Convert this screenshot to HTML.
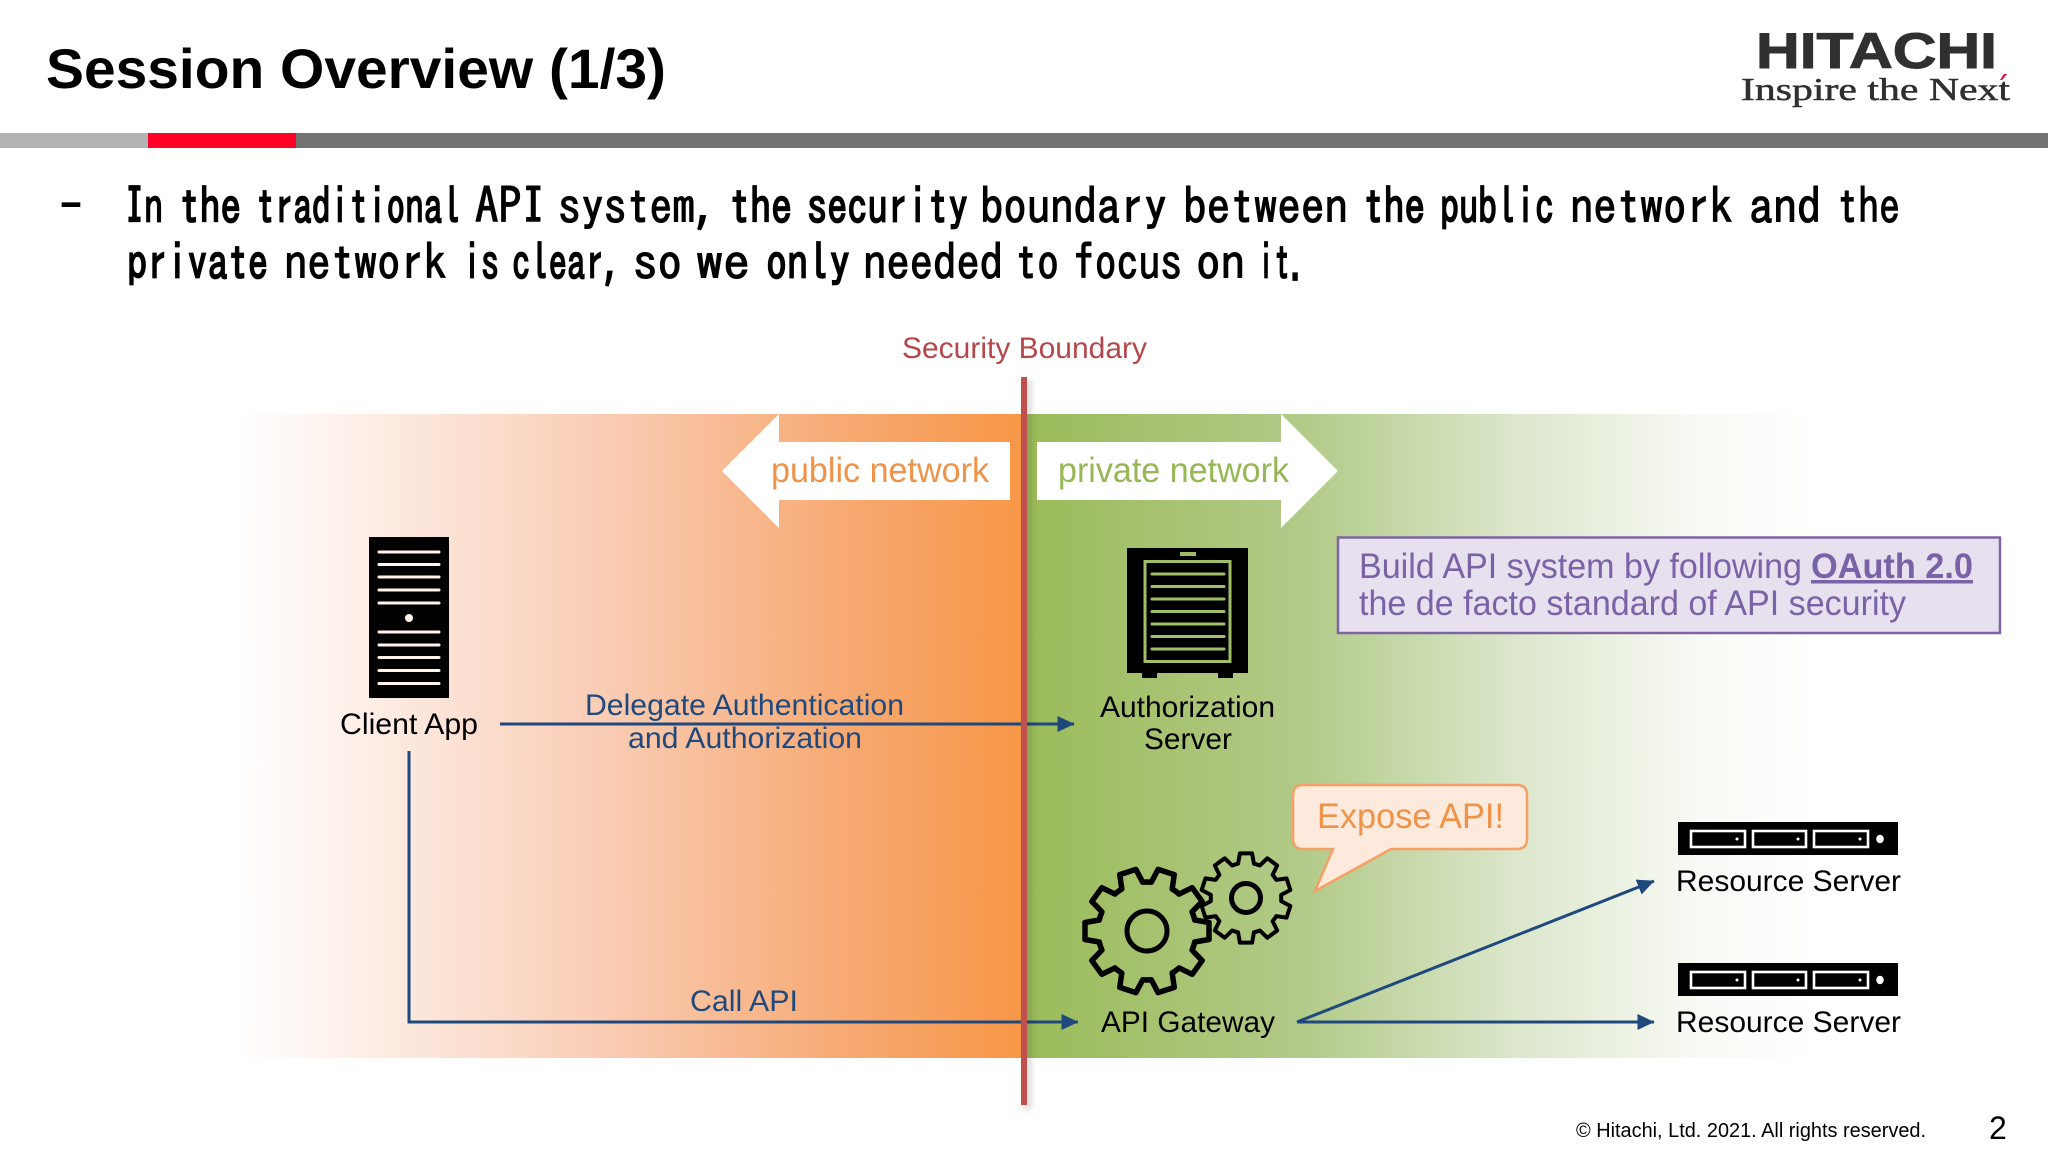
<!DOCTYPE html>
<html><head><meta charset="utf-8"><title>Session Overview (1/3)</title>
<style>
html,body{margin:0;padding:0;background:#fff;width:2048px;height:1152px;overflow:hidden}
svg{display:block;position:absolute;left:0;top:0}
text{font-family:"Liberation Sans",Arial,sans-serif}
.b text{font-family:IPAGothic,"Liberation Sans",sans-serif}
.b .h{stroke-width:1.7}
</style></head><body>
<svg width="2048" height="1152" viewBox="0 0 2048 1152" xmlns="http://www.w3.org/2000/svg">
<defs>
<linearGradient id="gl" gradientUnits="userSpaceOnUse" x1="235" y1="0" x2="1024" y2="0">
<stop offset="0" stop-color="#fff"/><stop offset=".1" stop-color="#fef5f1"/><stop offset=".48" stop-color="#f9cbb2"/><stop offset=".78" stop-color="#f7a971"/><stop offset="1" stop-color="#f79646"/>
</linearGradient>
<linearGradient id="gr" gradientUnits="userSpaceOnUse" x1="1024" y1="0" x2="1820" y2="0">
<stop offset="0" stop-color="#9bbb59"/><stop offset=".35" stop-color="#b2ca88"/><stop offset=".62" stop-color="#dce7cc"/><stop offset=".85" stop-color="#f8faf5"/><stop offset="1" stop-color="#fff"/>
</linearGradient>
<filter id="bl" x="-300%" y="-5%" width="700%" height="110%"><feGaussianBlur stdDeviation="3"/></filter>
<marker id="ah" viewBox="0 0 17 16" refX="16.5" refY="8" markerWidth="17" markerHeight="16" markerUnits="userSpaceOnUse" orient="auto"><path d="M0 0L17 8L0 16Z" fill="#1f497d"/></marker>
<g id="bseg"><path d="M-15.1-46.6L-11-47.7L-8.5-62H8.5L11-47.7L15.1-46.6" fill="none" stroke="#000" stroke-width="5.5" stroke-linejoin="round" stroke-linecap="round"/></g>
<g id="gear">
<use href="#bseg"/><use href="#bseg" transform="rotate(36)"/><use href="#bseg" transform="rotate(72)"/><use href="#bseg" transform="rotate(108)"/><use href="#bseg" transform="rotate(144)"/><use href="#bseg" transform="rotate(180)"/><use href="#bseg" transform="rotate(216)"/><use href="#bseg" transform="rotate(252)"/><use href="#bseg" transform="rotate(288)"/><use href="#bseg" transform="rotate(324)"/>
</g>
<g id="rack">
<rect x="1678" y="0" width="220" height="33" fill="#000"/>
<g fill="none" stroke="#fff" stroke-width="2.6"><rect x="1691" y="9" width="54" height="16"/><rect x="1753" y="9" width="53" height="16"/><rect x="1814" y="9" width="54" height="16"/></g>
<g fill="#fff"><circle cx="1737" cy="17" r="1.5"/><circle cx="1798" cy="17" r="1.5"/><circle cx="1860" cy="17" r="1.5"/><ellipse cx="1880" cy="17" rx="3.8" ry="4.2"/></g>
</g>
</defs>

<!-- header -->
<text x="46" y="88" font-size="56" font-weight="700" fill="#000" textLength="620" lengthAdjust="spacingAndGlyphs">Session Overview (1/3)</text>
<rect x="0" y="133" width="148" height="15" fill="#b2b2b2"/>
<rect x="148" y="133" width="148" height="15" fill="#ff0027"/>
<rect x="296" y="133" width="1752" height="15" fill="#737373"/>
<text x="1756" y="68" font-size="50" font-weight="700" fill="#303030" stroke="#303030" stroke-width="1" textLength="241" lengthAdjust="spacingAndGlyphs">HITACHI</text>
<text x="1741" y="100" font-size="32" fill="#303030" stroke="#303030" stroke-width=".5" style="font-family:'Liberation Serif',serif" textLength="269" lengthAdjust="spacingAndGlyphs">Inspire the Next</text>
<path d="M2000 80L2004 74H2007L2002 80Z" fill="#e60027"/>

<!-- body text -->
<g class="b" fill="#000" stroke="#000" stroke-width="1.1" font-size="50">
<text x="60" y="224" textLength="22" lengthAdjust="spacingAndGlyphs">-</text>
<text class="h" x="125" y="224" textLength="38" lengthAdjust="spacingAndGlyphs">In</text>
<text class="h" x="179" y="224" textLength="62" lengthAdjust="spacingAndGlyphs">the</text>
<text class="h" x="256" y="224" textLength="205" lengthAdjust="spacingAndGlyphs">traditional</text>
<text x="475" y="224" textLength="70" lengthAdjust="spacingAndGlyphs">API</text>
<text x="558" y="224" textLength="160" lengthAdjust="spacingAndGlyphs">system,</text>
<text class="h" x="729" y="224" textLength="63" lengthAdjust="spacingAndGlyphs">the</text>
<text class="h" x="807" y="224" textLength="161" lengthAdjust="spacingAndGlyphs">security</text>
<text x="980" y="224" textLength="187" lengthAdjust="spacingAndGlyphs">boundary</text>
<text x="1183" y="224" textLength="165" lengthAdjust="spacingAndGlyphs">between</text>
<text class="h" x="1363" y="224" textLength="62" lengthAdjust="spacingAndGlyphs">the</text>
<text class="h" x="1440" y="224" textLength="114" lengthAdjust="spacingAndGlyphs">public</text>
<text x="1570" y="224" textLength="163" lengthAdjust="spacingAndGlyphs">network</text>
<text x="1749" y="224" textLength="72" lengthAdjust="spacingAndGlyphs">and</text>
<text x="1837" y="224" textLength="63" lengthAdjust="spacingAndGlyphs">the</text>
<text class="h" x="127" y="280" textLength="141" lengthAdjust="spacingAndGlyphs">private</text>
<text x="284" y="280" textLength="163" lengthAdjust="spacingAndGlyphs">network</text>
<text class="h" x="463" y="280" textLength="36" lengthAdjust="spacingAndGlyphs">is</text>
<text class="h" x="512" y="280" textLength="110" lengthAdjust="spacingAndGlyphs">clear,</text>
<text x="633" y="280" textLength="49" lengthAdjust="spacingAndGlyphs">so</text>
<text x="696" y="280" textLength="54" lengthAdjust="spacingAndGlyphs">we</text>
<text class="h" x="766" y="280" textLength="84" lengthAdjust="spacingAndGlyphs">only</text>
<text x="863" y="280" textLength="140" lengthAdjust="spacingAndGlyphs">needed</text>
<text x="1015" y="280" textLength="44" lengthAdjust="spacingAndGlyphs">to</text>
<text x="1073" y="280" textLength="109" lengthAdjust="spacingAndGlyphs">focus</text>
<text x="1196" y="280" textLength="49" lengthAdjust="spacingAndGlyphs">on</text>
<text class="h" x="1258" y="280" textLength="48" lengthAdjust="spacingAndGlyphs">it.</text>
</g>

<!-- band -->
<rect x="235" y="414" width="789" height="644" fill="url(#gl)"/>
<rect x="1024" y="414" width="796" height="644" fill="url(#gr)"/>

<!-- network arrows -->
<path d="M722 471L779 414V442H1010V500H779V528Z" fill="#fff"/>
<path d="M1338 471L1281 414V442H1037V500H1281V528Z" fill="#fff"/>
<text x="771" y="482" font-size="35" fill="#f0934a" textLength="218" lengthAdjust="spacingAndGlyphs">public network</text>
<text x="1058" y="482" font-size="35" fill="#97b755" textLength="231" lengthAdjust="spacingAndGlyphs">private network</text>

<!-- client icon -->
<rect x="369" y="537" width="80" height="161" fill="#000"/>
<g stroke="#fff3ec" stroke-width="3" stroke-linecap="round">
<path d="M379 552H439M379 564.5H439M379 577H439M379 590H439M379 603H439M379 632H439M379 645H439M379 657.5H439M379 670.5H439M379 683.5H439"/>
</g>
<circle cx="409" cy="618" r="4" fill="#fff3ec"/>
<text x="340" y="734" font-size="30" fill="#000" textLength="138" lengthAdjust="spacingAndGlyphs">Client App</text>

<!-- auth server icon -->
<rect x="1127" y="548" width="121" height="125" fill="#000"/>
<rect x="1142" y="672" width="15" height="6" fill="#000"/><rect x="1218" y="672" width="15" height="6" fill="#000"/>
<rect x="1180" y="552" width="16" height="4" fill="#a0be68"/>
<rect x="1145" y="561.5" width="85" height="100" fill="none" stroke="#a0be68" stroke-width="3"/>
<g stroke="#a0be68" stroke-width="3" stroke-linecap="round"><path d="M1152 574H1224M1152 586.5H1224M1152 599H1224M1152 611.5H1224M1152 624H1224M1152 636.5H1224M1152 649H1224"/></g>
<text x="1100" y="717" font-size="30" fill="#000" textLength="175" lengthAdjust="spacingAndGlyphs">Authorization</text>
<text x="1144" y="749" font-size="30" fill="#000" textLength="88" lengthAdjust="spacingAndGlyphs">Server</text>

<!-- connectors -->
<g fill="none" stroke="#1f497d" stroke-width="3">
<path d="M500 724H1074" marker-end="url(#ah)"/>
<path d="M409 751V1022H1078" marker-end="url(#ah)"/>
<path d="M1297 1022L1654 881" marker-end="url(#ah)"/>
<path d="M1297 1022H1654" marker-end="url(#ah)"/>
</g>
<text x="585" y="715" font-size="30" fill="#1f497d" textLength="319" lengthAdjust="spacingAndGlyphs">Delegate Authentication</text>
<text x="628" y="748" font-size="30" fill="#1f497d" textLength="234" lengthAdjust="spacingAndGlyphs">and Authorization</text>
<text x="690" y="1011" font-size="30" fill="#1f497d" textLength="108" lengthAdjust="spacingAndGlyphs">Call API</text>

<!-- boundary -->
<rect x="1024" y="380" width="8" height="730" fill="#000" opacity=".13" filter="url(#bl)"/>
<rect x="1021" y="377" width="6" height="728" fill="#c0504d"/>
<text x="902" y="358" font-size="30" fill="#b5474b" textLength="245" lengthAdjust="spacingAndGlyphs">Security Boundary</text>

<!-- purple box -->
<rect x="1338" y="537.5" width="662" height="95.5" fill="#e7e0ee" stroke="#8064a2" stroke-width="2.5"/>
<text x="1359" y="578" font-size="35" fill="#7a62a6" textLength="443" lengthAdjust="spacingAndGlyphs">Build API system by following</text>
<text x="1811" y="578" font-size="35" font-weight="700" fill="#7a62a6" text-decoration="underline" textLength="162" lengthAdjust="spacingAndGlyphs">OAuth 2.0</text>
<text x="1359" y="615" font-size="35" fill="#7a62a6" textLength="547" lengthAdjust="spacingAndGlyphs">the de facto standard of API security</text>

<!-- gears -->
<use href="#gear" transform="translate(1147 931) rotate(18)"/>
<circle cx="1147" cy="931" r="20" fill="none" stroke="#000" stroke-width="5"/>
<use href="#gear" transform="translate(1246 898) scale(.72)"/>
<circle cx="1246" cy="898" r="14.5" fill="none" stroke="#000" stroke-width="5"/>
<text x="1101" y="1032" font-size="30" fill="#000" textLength="174" lengthAdjust="spacingAndGlyphs">API Gateway</text>

<!-- callout -->
<path d="M1303 785H1517Q1527 785 1527 795V839Q1527 849 1517 849H1391L1315 891L1333 849H1303Q1293 849 1293 839V795Q1293 785 1303 785Z" fill="#fdeadd" stroke="#f4a066" stroke-width="2.5"/>
<text x="1317" y="828" font-size="35" fill="#f0934a" textLength="187" lengthAdjust="spacingAndGlyphs">Expose API!</text>

<!-- resource servers -->
<use href="#rack" transform="translate(0 822)"/>
<use href="#rack" transform="translate(0 963)"/>
<text x="1676" y="891" font-size="30" fill="#000" textLength="225" lengthAdjust="spacingAndGlyphs">Resource Server</text>
<text x="1676" y="1032" font-size="30" fill="#000" textLength="225" lengthAdjust="spacingAndGlyphs">Resource Server</text>

<!-- footer -->
<text x="1576" y="1137" font-size="20" fill="#000" textLength="350" lengthAdjust="spacingAndGlyphs">© Hitachi, Ltd. 2021. All rights reserved.</text>
<text x="1989" y="1139" font-size="32" fill="#000">2</text>
</svg>
</body></html>
